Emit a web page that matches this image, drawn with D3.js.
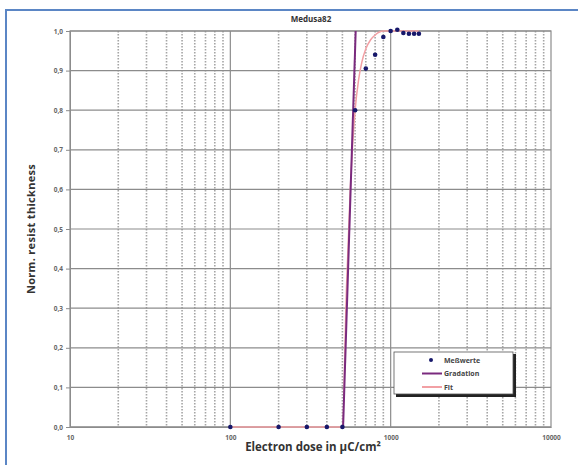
<!DOCTYPE html>
<html>
<head>
<meta charset="utf-8">
<script src="https://cdn.jsdelivr.net/npm/d3@7"></script>
<style>
  body { margin: 0; background: #fff; }
  text { font-family: "Open Sans", "Liberation Sans", sans-serif; }
</style>
</head>
<body>
<svg width="578" height="465"></svg>
<script>
// measured points
var doses = [100, 200, 300, 400, 500, 600, 700, 800, 900, 1000, 1100, 1200, 1300, 1400, 1500];
var thickness = [0, 0, 0, 0, 0, 0.80, 0.905, 0.94, 0.985, 1.0, 1.003, 0.995, 0.993, 0.993, 0.993];

// gradation line (two ends)
var gradDose = [505, 605];
var gradVal = [0, 1.0];

// fit curve
var fitDose = [100, 500, 530, 560, 600, 630, 660, 700, 750, 800, 900, 1000, 1500];
var fitVal = [0, 0, 0.35, 0.6, 0.8, 0.875, 0.92, 0.955, 0.978, 0.99, 1.0, 1.0, 1.0];

var yTicks = [0, 0.1, 0.2, 0.3, 0.4, 0.5, 0.6, 0.7, 0.8, 0.9, 1.0];
var xTicks = [10, 100, 1000, 10000];

var svg = d3.select("svg");
var pLeft = 70, pRight = 551, pTop = 31, pBottom = 427;

var x = d3.scaleLog().domain([10, 10000]).range([pLeft, pRight]);
var y = d3.scaleLinear().domain([0, 1]).range([pBottom, pTop]);

// outer frame
svg.append("rect")
    .attr("x", 6).attr("y", 10)
    .attr("width", 590).attr("height", 470)
    .attr("fill", "none")
    .attr("stroke", "#5b86c5")
    .attr("stroke-width", 2);

// minor vertical gridlines
var minor = [];
[10, 100, 1000].forEach(function(d) {
    for (var k = 2; k <= 9; k++) minor.push(d * k);
});
svg.append("g")
    .selectAll("line")
    .data(minor)
    .enter().append("line")
    .attr("x1", function(d) { return x(d); })
    .attr("x2", function(d) { return x(d); })
    .attr("y1", pTop).attr("y2", pBottom)
    .attr("stroke", "#a5a5a5")
    .attr("stroke-width", 1.6)
    .attr("stroke-dasharray", "1.5,1.5");

// major gridlines
svg.append("g")
    .selectAll("line")
    .data(yTicks)
    .enter().append("line")
    .attr("x1", pLeft).attr("x2", pRight)
    .attr("y1", function(d) { return y(d); })
    .attr("y2", function(d) { return y(d); })
    .attr("stroke", "#8c8c8c")
    .attr("stroke-width", 1.2);

svg.append("g")
    .selectAll("line")
    .data([100, 1000])
    .enter().append("line")
    .attr("x1", function(d) { return x(d); })
    .attr("x2", function(d) { return x(d); })
    .attr("y1", pTop).attr("y2", pBottom)
    .attr("stroke", "#8c8c8c")
    .attr("stroke-width", 1.2);

// plot border
svg.append("rect")
    .attr("x", pLeft).attr("y", pTop)
    .attr("width", pRight - pLeft).attr("height", pBottom - pTop)
    .attr("fill", "none")
    .attr("stroke", "#8c8c8c")
    .attr("stroke-width", 1.2);

// axes
var yAxis = svg.append("g")
    .attr("transform", "translate(" + pLeft + ",0)")
    .call(d3.axisLeft(y).tickValues(yTicks).tickSize(4).tickPadding(3)
        .tickFormat(function(d) { return d3.format(".1f")(d).replace(".", ","); }));
var xAxis = svg.append("g")
    .attr("transform", "translate(0," + pBottom + ")")
    .call(d3.axisBottom(x).tickValues(xTicks).tickSize(0).tickPadding(8)
        .tickFormat(d3.format("d")));
[yAxis, xAxis].forEach(function(a) {
    a.select(".domain").attr("stroke", "#8c8c8c");
    a.selectAll(".tick line").attr("stroke", "#8c8c8c");
    a.selectAll("text")
        .attr("fill", "#666")
        .style("font-size", "6.5px")
        .style("font-weight", "bold");
});

// fit curve
svg.append("path")
    .datum(d3.zip(fitDose, fitVal))
    .attr("fill", "none")
    .attr("stroke", "#f2a0a4")
    .attr("stroke-width", 1.5)
    .attr("d", d3.line()
        .x(function(d) { return x(d[0]); })
        .y(function(d) { return y(d[1]); })
        .curve(d3.curveMonotoneX));

// gradation line
svg.append("path")
    .datum(d3.zip(gradDose, gradVal))
    .attr("fill", "none")
    .attr("stroke", "#7a2a7e")
    .attr("stroke-width", 2)
    .attr("d", d3.line()
        .x(function(d) { return x(d[0]); })
        .y(function(d) { return y(d[1]); }));

// measured points
svg.append("g")
    .selectAll("circle")
    .data(d3.zip(doses, thickness))
    .enter().append("circle")
    .attr("cx", function(d) { return x(d[0]); })
    .attr("cy", function(d) { return y(d[1]); })
    .attr("r", 2.3)
    .attr("fill", "#17186b");

// titles
svg.append("text")
    .attr("x", 311).attr("y", 22)
    .attr("text-anchor", "middle")
    .style("font-size", "8px")
    .style("font-weight", "bold")
    .attr("fill", "#333")
    .text("Medusa82");

svg.append("text")
    .attr("transform", "translate(35," + ((pTop + pBottom) / 2) + ") rotate(-90)")
    .attr("text-anchor", "middle")
    .style("font-size", "11px")
    .style("font-weight", "bold")
    .style("letter-spacing", "0.3px")
    .attr("fill", "#333")
    .text("Norm. resist  thickness");

svg.append("text")
    .attr("x", 313).attr("y", 451)
    .attr("text-anchor", "middle")
    .style("font-size", "11.5px")
    .style("font-weight", "bold")
    .attr("fill", "#333")
    .text("Electron dose in µC/cm²");

// legend
var lg = svg.append("g").attr("transform", "translate(394,352)");
lg.append("rect")
    .attr("x", 2).attr("y", 2).attr("width", 120).attr("height", 43)
    .attr("fill", "#222");
lg.append("rect")
    .attr("x", 0).attr("y", 0).attr("width", 119).attr("height", 42)
    .attr("fill", "#fff").attr("stroke", "#555").attr("stroke-width", 0.8);
var items = ["Meßwerte", "Gradation", "Fit"];
items.forEach(function(t, i) {
    var yy = 8 + i * 13.5;
    if (i === 0) {
        lg.append("circle").attr("cx", 37).attr("cy", yy).attr("r", 2).attr("fill", "#17186b");
    } else {
        lg.append("line").attr("x1", 28).attr("x2", 48).attr("y1", yy).attr("y2", yy)
            .attr("stroke", i === 1 ? "#7a2a7e" : "#f2a0a4").attr("stroke-width", 2);
    }
    lg.append("text").attr("x", 50).attr("y", yy + 2.5)
        .style("font-size", "7px").style("font-weight", "bold")
        .attr("fill", "#444").text(t);
});
</script>
</body>
</html>
